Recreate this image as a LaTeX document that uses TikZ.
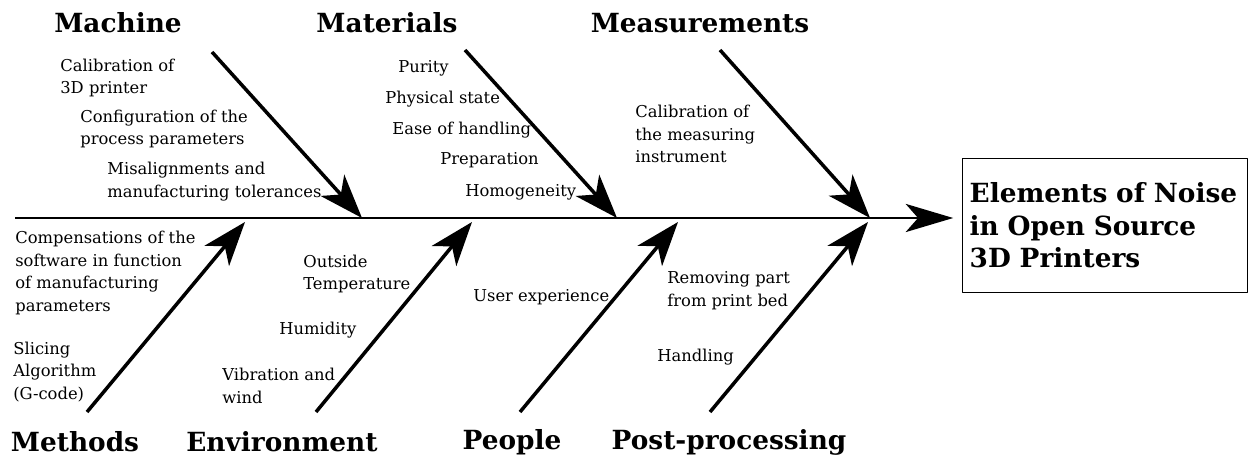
\documentclass[tikz,border=0pt]{standalone}
\usepackage{fontspec}
\setmainfont{DejaVu Serif}
\usetikzlibrary{arrows.meta}
\begin{document}
\begin{tikzpicture}[x=0.02cm, y=-0.02cm, line join=round,
    bone/.style={line width=2pt, -{Stealth[length=25pt,width=18pt,inset=7pt]}},
    spine/.style={line width=1.7pt, -{Stealth[length=27pt,width=16pt,inset=7pt]}},
    cause/.style={font=\fontsize{15}{18}\selectfont\bfseries, inner sep=0pt},
    factor/.style={font=\fontsize{9.3}{13}\selectfont, align=left, anchor=west, inner sep=0pt}]
	\useasboundingbox (0,0) rectangle (1250,462);
	
	% spine and effect
	\coordinate (tail) at (15,218);
	\node[draw, line width=0.8pt, font=\fontsize{15}{18.5}\selectfont\bfseries, align=left,
	      text width=154pt, inner xsep=4pt, minimum height=76pt] (effect) at (1105,225.5)
	      {Elements of Noise\\in Open Source\\3D Printers};
	\draw[spine] (tail) -- (tail -| effect.west) [shorten >=5pt];
	
	% bones: start and end on the spine
	\coordinate (machA) at (212,52);  \coordinate (machB) at (362,218);
	\coordinate (mateA) at (465,50);  \coordinate (mateB) at (617,218);
	\coordinate (measA) at (720,50);  \coordinate (measB) at (870,218);
	\coordinate (methA) at (87,412);  \coordinate (methB) at (245,222);
	\coordinate (enviA) at (316,412); \coordinate (enviB) at (472,222);
	\coordinate (peopA) at (520,412); \coordinate (peopB) at (678,222);
	\coordinate (postA) at (710,412); \coordinate (postB) at (868,222);
	
	\draw[bone] (machA) -- (machB);
	\draw[bone] (mateA) -- (mateB);
	\draw[bone] (measA) -- (measB);
	\draw[bone] (methA) -- (methB);
	\draw[bone] (enviA) -- (enviB);
	\draw[bone] (peopA) -- (peopB);
	\draw[bone] (postA) -- (postB);
	
	% causes
	\node[cause] (machine) at (118,23) {Machine};
	\node[cause] (materials) at (387,23) {Materials};
	\node[cause] (measurements) at (700,23) {Measurements};
	\node[cause] (methods) at (75,442) {Methods};
	\node[cause] (environment) at (282,442) {Environment};
	\node[cause] (people) at (512,442) {People};
	\node[cause] (postproc) at (729,442) {Post-processing};
	
	% factors
	\node[factor] (calib) at (60,78) {Calibration of\\3D printer};
	\node[factor] (config) at (80,129) {Configuration of the\\process parameters};
	\node[factor] (misalign) at (107,182) {Misalignments and\\manufacturing tolerances};
	\node[factor] (purity) at (398,68) {Purity};
	\node[factor] (physical) at (385,99) {Physical state};
	\node[factor] (ease) at (392,130) {Ease of handling};
	\node[factor] (prep) at (440,160) {Preparation};
	\node[factor] (homog) at (465,192) {Homogeneity};
	\node[factor] (calibm) at (635,134) {Calibration of\\the measuring\\instrument};
	\node[factor] (comp) at (15,273) {Compensations of the\\software in function\\of manufacturing\\parameters};
	\node[factor] (slicing) at (13,372) {Slicing\\Algorithm\\(G-code)};
	\node[factor] (outside) at (303,274) {Outside\\Temperature};
	\node[factor] (humidity) at (279,330) {Humidity};
	\node[factor] (vibration) at (222,386) {Vibration and\\wind};
	\node[factor] (user) at (473,297) {User experience};
	\node[factor] (removing) at (667,291) {Removing part\\from print bed};
	\node[factor] (handling) at (657,357) {Handling};
\end{tikzpicture}
\end{document}
